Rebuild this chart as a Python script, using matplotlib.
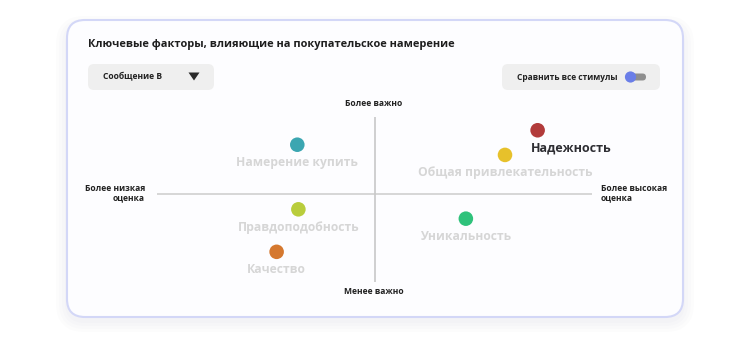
import matplotlib.pyplot as plt
from matplotlib.patches import FancyBboxPatch, Circle, Polygon

plt.rcParams['font.family'] = ['Open Sans', 'DejaVu Sans']

# factors: x = rating (lower -> higher), y = importance (less -> more)
factors = ['Намерение купить', 'Правдоподобность', 'Качество',
           'Надежность', 'Общая привлекательность', 'Уникальность']
rating = [-0.355, -0.35, -0.45, 0.75, 0.60, 0.42]
importance = [0.58, -0.18, -0.68, 0.75, 0.46, -0.29]
colors = ['#3ba6b1', '#b9cd3c', '#d5782f', '#b23b3b', '#e7c12b', '#2fc27b']
highlight = 'Надежность'

title = 'Ключевые факторы, влияющие на покупательское намерение'
dropdown_label = 'Сообщение B'
toggle_label = 'Сравнить все стимулы'

W, H = 750, 337
fig = plt.figure(figsize=(W / 100, H / 100), dpi=100)

# background layer in pixel coordinates
bg = fig.add_axes([0, 0, 1, 1])
bg.set_xlim(0, W)
bg.set_ylim(H, 0)
bg.axis('off')

# soft shadow under the card
for d in [2, 5, 8, 11]:
    bg.add_patch(FancyBboxPatch((67 - d, 20 - d + 7), 616 + 2 * d, 298 + 2 * d - 4,
                                boxstyle='round,pad=0,rounding_size=%d' % (18 + d),
                                fc='#8a90a8', ec='none', alpha=0.022, zorder=0))
bg.add_patch(FancyBboxPatch((67, 20), 616, 297, boxstyle='round,pad=0,rounding_size=18',
                            fc='#fdfdff', ec='#d3d7f7', lw=1.5, zorder=1))

bg.text(88, 45, title, fontsize=7.9, fontweight='bold', color='#1e1e1e',
        va='center', ha='left', zorder=2)

# dropdown
bg.add_patch(FancyBboxPatch((88, 64), 126, 26, boxstyle='round,pad=0,rounding_size=6',
                            fc='#efefef', ec='none', zorder=2))
bg.text(103, 77, dropdown_label, fontsize=6.1, fontweight='bold', color='#222222',
        va='center', ha='left', zorder=3)
bg.add_patch(Polygon([(188.5, 72.5), (199.5, 72.5), (194, 80.5)], closed=True,
                     fc='#2a2a2a', ec='none', zorder=3))

# toggle
bg.add_patch(FancyBboxPatch((502, 64), 158, 26, boxstyle='round,pad=0,rounding_size=6',
                            fc='#efefef', ec='none', zorder=2))
bg.text(517, 77, toggle_label, fontsize=6.05, fontweight='bold', color='#222222',
        va='center', ha='left', zorder=3)
bg.add_patch(FancyBboxPatch((629, 73.5), 17, 7, boxstyle='round,pad=0,rounding_size=3.5',
                            fc='#8e8e8e', ec='none', zorder=3))
bg.add_patch(Circle((630.5, 77), 5.6, fc='#6a7ee8', ec='none', zorder=4))

# axis end labels
bg.text(374, 104, 'Более важно', fontsize=6.1, fontweight='bold', color='#222222',
        ha='center', va='center', zorder=3)
bg.text(374, 291, 'Менее важно', fontsize=6.1, fontweight='bold', color='#222222',
        ha='center', va='center', zorder=3)
bg.text(145, 193, 'Более низкая\nоценка', fontsize=6.1, fontweight='bold', color='#222222',
        ha='right', va='center', linespacing=1.0, zorder=3)
bg.text(601, 193, 'Более высокая\nоценка', fontsize=6.1, fontweight='bold', color='#222222',
        ha='left', va='center', linespacing=1.0, zorder=3)

# quadrant chart
ax = fig.add_axes([157 / W, (H - 282) / H, 435 / W, 165 / H])
ax.set_xlim(-1, 1)
ax.set_ylim(-1.035, 0.906)
ax.axis('off')
ax.patch.set_alpha(0)
ax.axhline(0, color='#d0d0d0', lw=1.2, zorder=1)
ax.axvline(0, color='#c8c8c8', lw=1.2, zorder=1)

ax.scatter(rating, importance, s=110, c=colors, zorder=3, linewidths=0)
for name, x, y in zip(factors, rating, importance):
    if name == highlight:
        ax.annotate(name, (x, y), xytext=(-5, -13), textcoords='offset points',
                    ha='left', va='center', fontsize=9.0, fontweight='bold',
                    color='#2e2e33', zorder=4)
    else:
        ax.annotate(name, (x, y), xytext=(0, -13), textcoords='offset points',
                    ha='center', va='center', fontsize=8.7, fontweight='bold',
                    color='#d6d6d6', zorder=2)

fig.savefig('out.png', dpi=100)
